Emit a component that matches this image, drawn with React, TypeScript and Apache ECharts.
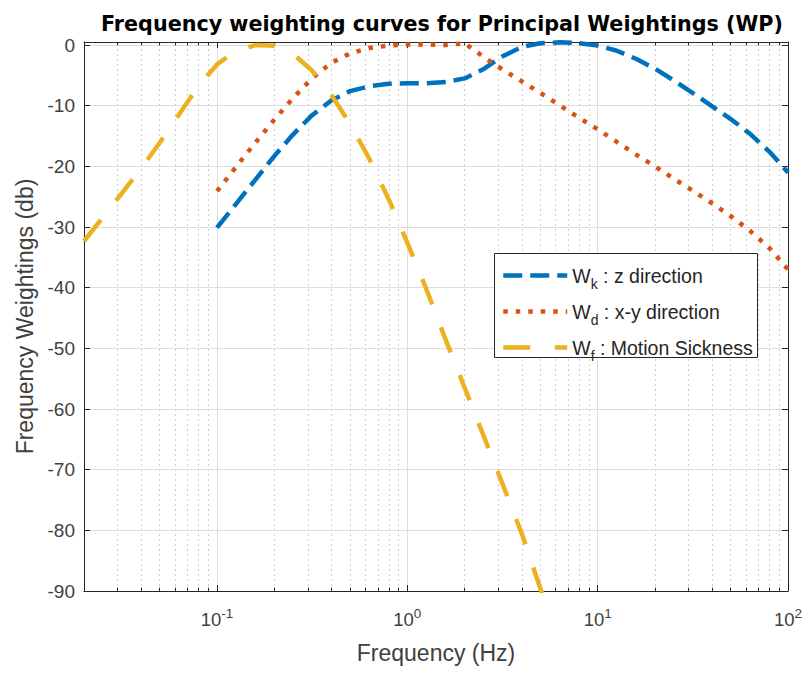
import { useEffect, useRef } from 'react';
import * as echarts from 'echarts';

// Frequencies (Hz), 1/3-octave bands
const freqKD = [0.1, 0.125, 0.16, 0.2, 0.25, 0.315, 0.4, 0.5, 0.63, 0.8, 1, 1.25, 1.6, 2, 2.5, 3.15, 4, 5, 6.3, 8, 10, 12.5, 16, 20, 25, 31.5, 40, 50, 63, 80, 100];
// Wk : z direction (dB)
const wkDb = [-30.1, -26.3, -22.1, -18.3, -14.8, -11.6, -9.1, -7.6, -6.8, -6.4, -6.3, -6.3, -6.1, -5.5, -4.0, -1.9, -0.3, 0.3, 0.45, 0.3, -0.1, -0.9, -2.3, -3.9, -5.8, -7.9, -10.1, -12.2, -14.6, -17.6, -21.0];
// Wd : x-y direction (dB)
const wdDb = [-24.1, -20.2, -16.0, -12.3, -8.8, -5.5, -2.9, -1.4, -0.5, -0.1, 0.1, 0.1, 0.0, 0.3, -1.9, -4.0, -6.0, -7.9, -9.9, -12.0, -13.9, -15.9, -18.1, -20.0, -22.0, -24.0, -26.1, -28.2, -30.6, -33.5, -37.0];
// Wf : motion sickness
const freqF = [0.02, 0.025, 0.0315, 0.04, 0.05, 0.063, 0.08, 0.1, 0.125, 0.16, 0.2, 0.25, 0.315, 0.4, 0.5, 0.63, 0.8, 1, 1.25, 1.6, 2, 2.5, 3.15, 4, 5, 5.3];
const wfDb = [-32.3, -28.5, -24.5, -20.3, -16.1, -11.5, -6.7, -3.2, -1.0, 0.0, -0.1, -1.4, -4.2, -8.3, -13.0, -18.7, -25.5, -32.6, -40.0, -48.8, -56.5, -64.2, -72.2, -80.6, -89.6, -92.0];

const minorFreqs = [0.03, 0.04, 0.05, 0.06, 0.07, 0.08, 0.09, 0.2, 0.3, 0.4, 0.5, 0.6, 0.7, 0.8, 0.9, 2, 3, 4, 5, 6, 7, 8, 9, 20, 30, 40, 50, 60, 70, 80, 90];
const xMin = 0.02;
const xMax = 100;
const yMin = -90;
const yMax = 0.5;

const names = ['Wk', 'Wd', 'Wf'];
const legendLabels: Record<string, [string, string]> = {
  Wk: ['k', ' : z direction'],
  Wd: ['d', ' : x-y direction'],
  Wf: ['f', ' : Motion Sickness'],
};

const FONT = '"Liberation Sans", Arial, Helvetica, sans-serif';
const AX = '#262626';
const LBL = '#404040';

export default function App() {
  const ref = useRef<HTMLDivElement>(null);
  useEffect(() => {
    const chart = echarts.init(ref.current!, null, { renderer: 'svg' });
    const pairs = (xs: number[], ys: number[]) => xs.map((x, i) => [x, ys[i]]);
    const logFmt = (v: number) => {
      const e = Math.log10(v);
      if (Math.abs(e - Math.round(e)) < 1e-6 && v > 0.05) {
        return `{b|10}{s|${Math.round(e)}}`;
      }
      return '';
    };
    const option: any = {
      animation: false,
      backgroundColor: '#ffffff',
      title: {
        text: 'Frequency weighting curves for Principal Weightings (WP)',
        left: 437,
        textAlign: 'center',
        top: 8,
        textStyle: { fontFamily: '"DejaVu Sans", sans-serif', fontWeight: 'bold', fontSize: 20.7, color: '#000' },
      },
      grid: { left: 84, right: 20, top: 42, bottom: 82, containLabel: false },
      graphic: [
        {
          type: 'rect',
          left: 494,
          top: 253,
          z: 15,
          shape: { width: 263, height: 104 },
          style: { fill: '#ffffff', stroke: AX, lineWidth: 1 },
          silent: true,
        },
      ],
      legend: {
        data: names,
        orient: 'vertical',
        left: 494,
        top: 255,
        z: 20,
        itemWidth: 64,
        itemHeight: 14,
        itemGap: 5,
        padding: [5, 8, 2, 7],
        backgroundColor: 'transparent',
        borderWidth: 0,
        selectedMode: false,
        itemStyle: { color: 'rgba(0,0,0,0)', borderWidth: 0, opacity: 0 },
        lineStyle: { width: 4.5 },
        formatter: (name: string) => `{w|W}{s|${legendLabels[name][0]}}{t|${legendLabels[name][1]}}`,
        textStyle: {
          fontFamily: FONT,
          fontSize: 19.5,
          color: AX,
          rich: {
            w: { fontFamily: FONT, fontSize: 19.5, lineHeight: 22, color: AX },
            t: { fontFamily: FONT, fontSize: 19.5, lineHeight: 22, color: AX },
            s: { fontFamily: FONT, fontSize: 14, lineHeight: 14, padding: [17, 0, 0, 0], color: AX },
          },
        },
      },
      xAxis: [
        {
          type: 'log',
          logBase: 10,
          min: xMin,
          max: xMax,
          name: 'Frequency (Hz)',
          nameLocation: 'middle',
          nameGap: 50,
          nameTextStyle: { fontFamily: FONT, fontSize: 23, color: LBL },
          axisLine: { show: true, onZero: false, lineStyle: { color: AX, width: 1 } },
          axisTick: { show: true, inside: true, length: 6, lineStyle: { color: AX } },
          axisLabel: {
            formatter: logFmt,
            margin: 18,
            color: LBL,
            rich: {
              b: { fontFamily: FONT, fontSize: 18.5, lineHeight: 20, color: LBL },
              s: { fontFamily: FONT, fontSize: 13.5, lineHeight: 13, padding: [0, 0, 11, 0], color: LBL },
            },
          },
          splitLine: { show: true, lineStyle: { color: '#dedede', width: 1 } },
        },
        {
          type: 'log',
          logBase: 10,
          min: xMin,
          max: xMax,
          position: 'top',
          axisLine: { show: true, onZero: false, lineStyle: { color: AX, width: 1 } },
          axisTick: { show: true, inside: true, length: 6, lineStyle: { color: AX } },
          axisLabel: { show: false },
          splitLine: { show: false },
        },
      ],
      yAxis: [
        {
          type: 'value',
          min: yMin,
          max: yMax,
          interval: 10,
          name: 'Frequency Weightings (db)',
          nameLocation: 'middle',
          nameGap: 47,
          nameTextStyle: { fontFamily: FONT, fontSize: 23, color: LBL },
          axisLine: { show: true, onZero: false, lineStyle: { color: AX, width: 1 } },
          axisTick: { show: true, inside: true, length: 6, lineStyle: { color: AX } },
          axisLabel: {
            fontFamily: FONT,
            fontSize: 19,
            color: LBL,
            margin: 9,
            formatter: (v: number) => (Math.abs(v / 10 - Math.round(v / 10)) < 1e-6 ? String(Math.round(v)) : ''),
          },
          splitLine: { show: true, lineStyle: { color: '#dedede', width: 1 } },
        },
        {
          type: 'value',
          min: yMin,
          max: yMax,
          interval: 10,
          position: 'right',
          axisLine: { show: true, onZero: false, lineStyle: { color: AX, width: 1 } },
          axisTick: { show: true, inside: true, length: 6, lineStyle: { color: AX } },
          axisLabel: { show: false },
          splitLine: { show: false },
        },
      ],
      series: [
        {
          name: 'grid-minor',
          type: 'line',
          data: [],
          silent: true,
          z: 1,
          markLine: {
            silent: true,
            symbol: ['none', 'none'],
            label: { show: false },
            animation: false,
            lineStyle: { color: '#d0d0d0', type: [2, 3], width: 1 },
            emphasis: { disabled: true },
            data: [
              ...minorFreqs.map((v) => ({ xAxis: v })),
              ...minorFreqs.map((v) => [
                { coord: [v, yMin], lineStyle: { color: AX, type: 'solid', width: 1 } },
                { coord: [v, yMin + 0.55] },
              ]),
              ...minorFreqs.map((v) => [
                { coord: [v, yMax], lineStyle: { color: AX, type: 'solid', width: 1 } },
                { coord: [v, yMax - 0.55] },
              ]),
            ],
          },
        },
        {
          name: 'Wk',
          type: 'line',
          data: pairs(freqKD, wkDb),
          showSymbol: false,
          symbol: 'none',
          z: 5,
          lineStyle: { color: '#0072BD', width: 4.5, type: [19, 8], cap: 'butt' },
          itemStyle: { color: '#0072BD' },
        },
        {
          name: 'Wd',
          type: 'line',
          data: pairs(freqKD, wdDb),
          showSymbol: false,
          symbol: 'none',
          z: 5,
          lineStyle: { color: '#D95319', width: 4.5, type: [4.5, 8], cap: 'butt' },
          itemStyle: { color: '#D95319' },
        },
        {
          name: 'Wf',
          type: 'line',
          data: pairs(freqF, wfDb),
          showSymbol: false,
          symbol: 'none',
          z: 5,
          lineStyle: { color: '#EDB120', width: 4.5, type: [27, 24.5], cap: 'butt' },
          itemStyle: { color: '#EDB120' },
        },
      ],
    };
    chart.setOption(option);
    return () => chart.dispose();
  }, []);
  return <div ref={ref} style={{ position: 'fixed', left: 0, top: 0, width: 808, height: 673 }} />;
}
